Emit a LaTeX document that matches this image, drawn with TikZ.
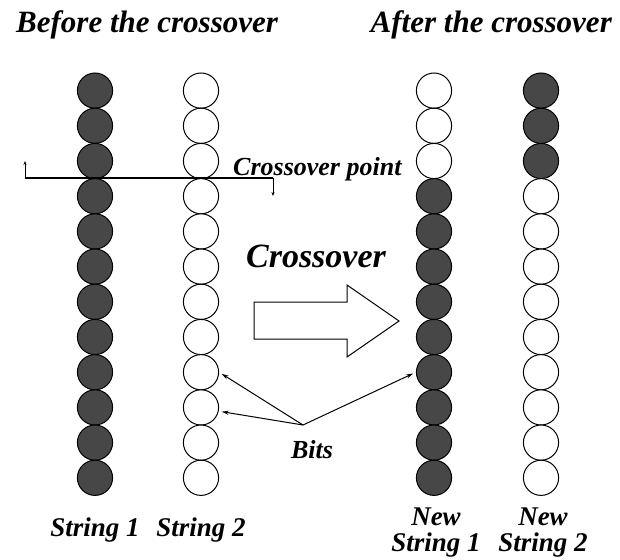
\documentclass[tikz,border=0pt]{standalone}
\usepackage{fontspec}
\setmainfont{Liberation Serif}
\usetikzlibrary{arrows.meta}
\begin{document}
\begin{tikzpicture}[x=1pt,y=-1pt,
  bit/.style={circle,minimum size=35.2pt,inner sep=0pt,draw=black,line width=1pt},
  onebit/.style={bit,fill=black!72},
  zerobit/.style={bit,fill=white},
  ttl/.style={font=\fontsize{31}{34}\selectfont\bfseries\itshape,inner sep=0pt},
  lbl/.style={font=\fontsize{27}{26}\selectfont\bfseries\itshape,inner sep=0pt,align=center},
  pointer/.style={line width=1pt,-{Stealth[length=7pt,width=4pt]}},
  tick/.style={line width=1pt,-{Stealth[length=4pt,width=3pt]}}
]
\useasboundingbox (0,0) rectangle (620,559);

% titles
\node[ttl,anchor=base west] (t1) at (16,33) {Before the crossover};
\node[ttl,anchor=base east] (t2) at (612,33) {After the crossover};

% bit strings
\foreach \i in {1,...,12}{
  \pgfmathsetmacro\yy{90.6+35.2*(\i-1)}
  \ifnum\i<4 \def\sa{zerobit}\def\sb{onebit}\else\def\sa{onebit}\def\sb{zerobit}\fi
  \node[onebit] (a\i) at (95,\yy) {};
  \node[zerobit] (b\i) at (201,\yy) {};
  \node[\sa] (c\i) at (434,\yy) {};
  \node[\sb] (d\i) at (541,\yy) {};
}

% crossover point line
\coordinate (cl) at (25,178);
\coordinate (cr) at (273,178);
\coordinate (clu) at (25,161);
\coordinate (crd) at (273,196);
\draw[line width=1.4pt] (cl) -- (cr);
\draw[tick] (cl) -- (clu);
\draw[tick] (cr) -- (crd);
\node[font=\fontsize{26}{28}\selectfont\bfseries\itshape,inner sep=0pt,anchor=base west] (cp) at (233,175) {Crossover point};

% big arrow
\node[font=\fontsize{34}{36}\selectfont\bfseries\itshape,inner sep=0pt,anchor=base] (cx) at (316,267) {Crossover};
\draw[line width=1pt,fill=white] (254,302) -- (347,302) -- (347,285) -- (399,321) -- (347,357) -- (347,339) -- (254,339) -- cycle;

% bits
\node[font=\fontsize{26}{28}\selectfont\bfseries\itshape,inner sep=0pt,anchor=base] (bits) at (312,458) {Bits};
\coordinate (bj) at (303,425);
\draw[pointer,shorten >=3pt] (bj) -- (b9.east);
\draw[pointer,shorten >=3pt] (bj) -- (b10.-12);
\draw[pointer,shorten >=3pt] (bj) -- (c9.west);

% bottom labels
\node[lbl,anchor=base] (s1) at (95,536) {String 1};
\node[lbl,anchor=base] (s2) at (201,536) {String 2};
\node[lbl,anchor=base] (n1) at (436,551) {New\\String 1};
\node[lbl,anchor=base] (n2) at (543,551) {New\\String 2};
\end{tikzpicture}
\end{document}
